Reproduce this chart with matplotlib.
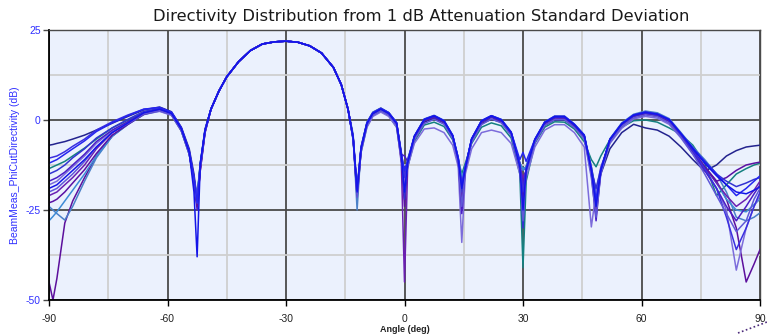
"""Directivity distribution chart from 1 dB attenuation standard deviation."""

import matplotlib

matplotlib.use("Agg")
from matplotlib import pyplot as plt  # noqa: E402
from matplotlib.lines import Line2D  # noqa: E402
from matplotlib.ticker import MultipleLocator  # noqa: E402

# angle grids (deg); the main beam is common to every trace
ANGLES_LEFT = [-90, -89, -88, -86, -84, -81, -78, -74, -70, -66, -62, -59, -56.5, -54.5, -53.3, -52.5, -51.7, -50.5]
ANGLES_MAIN = [-49, -47, -45, -42, -39, -36, -33, -30, -27, -24, -21, -18, -16, -14.3]
ANGLES_RIGHT = [
    -13, -12, -11, -9.5, -8, -6, -4, -2, -0.8, 0, 0.8, 2.5, 5, 7.5, 10, 12.2, 13.6, 14.5, 15.4, 17,
    19.5, 22, 24.5, 27, 29.2, 30, 30.8, 33, 35.5, 38, 40.5, 43, 45.5, 47.3, 48.5, 49.7, 52, 55, 58, 61,
    64, 67, 70, 73, 76, 79, 81.5, 84, 86.5, 88.5, 90,
]

MAIN_BEAM = [3, 8, 12, 16.2, 19.3, 21.1, 21.7, 21.9, 21.6, 20.6, 18.6, 14.6, 9.8, 3]

TRACE_COLORS = [
    "#23238e", "#148080", "#5c0f9c", "#4a80c8", "#3d8bd6", "#6b1fb2", "#7c6cdb",
    "#4a1dc6", "#5a10a4", "#3232d2", "#3a2fe0", "#6058d8", "#2525f0", "#1414e8",
]

LEFT_DB = [
    [-7, -6.8, -6.5, -6, -5.3, -4.2, -2.8, -0.9, 1, 2.8, 3.6, 2.3, -2, -8, -15, -22, -12, -2.5],
    [-13.5, -13, -12.5, -11.5, -10, -7.8, -5.3, -2.2, 0, 2, 2.8, 1.5, -3, -9.5, -17, -21, -12, -3],
    [-45, -50, -44, -28.6, -22.5, -16, -10, -4.5, -1, 1.6, 2.6, 1.6, -2.8, -9, -16, -23, -14, -3.5],
    [-24, -25, -26, -27.8, -24, -17, -10.5, -4.5, -1.2, 1.6, 2.6, 1.5, -3, -9.5, -17, -22, -13, -3.2],
    [-28, -26.8, -25.5, -22.5, -19.5, -15, -10, -4.5, -1.2, 1.5, 2.5, 1.4, -3, -9.5, -16.5, -21, -12.5, -3],
    [-21, -20.5, -20, -18, -16, -12.5, -8, -3.5, -0.8, 1.8, 2.8, 1.7, -2.6, -9, -17, -24, -13.5, -3],
    [-18, -17.5, -17, -15, -13, -10, -6.5, -3, -0.8, 1.6, 2.4, 1.3, -3, -9.5, -17, -22, -13, -3.5],
    [-17, -16.5, -16, -14.5, -12.5, -9.5, -6, -2.8, -0.4, 2, 2.9, 1.8, -2.4, -9, -17, -25, -13, -3],
    [-23, -22.6, -22, -20, -17.5, -13.8, -9.3, -4.2, -1.2, 1.6, 2.7, 1.6, -2.8, -9.2, -17.5, -24, -14, -3.5],
    [-15, -14.5, -14, -12.5, -10.5, -8, -5, -2.2, 0.2, 2.4, 3.2, 2, -2.3, -8.8, -16.5, -23, -12.8, -3],
    [-10.6, -10.3, -10, -8.8, -7.3, -5.3, -2.8, -0.5, 1.4, 3, 3.4, 2.1, -2.2, -8.6, -16, -22, -12.5, -2.8],
    [-20, -19.5, -19, -17, -15, -11.5, -7.5, -3.4, -1, 1.7, 2.6, 1.5, -2.8, -9.3, -17, -23, -13, -3.2],
    [-12, -11.5, -11, -9.5, -8, -5.8, -3.2, -0.8, 1.2, 3, 3.5, 2.2, -2.2, -8.5, -16, -23, -12.5, -2.8],
    [-19, -18.5, -18, -16, -14, -11, -7.5, -3.5, -0.8, 2, 3, 1.8, -2.5, -9, -20, -38, -12, -3],
]

RIGHT_DB = [
    [-4.5, -19, -7.5, -0.7, 2.1, 3.3, 2, -0.8, -9, -15, -11, -5, -0.6, 0.5, -0.8, -5, -11, -17, -13, -6,
     -1, 0.2, -0.6, -4, -12, -14, -13, -6, -1.5, 0, 0, -2, -5, -13, -20, -15, -8, -3.5, -1.2, -2.2,
     -2.8, -4.5, -7.5, -11, -14.2, -12.5, -10, -8.5, -7.5, -7.2, -7],
    [-5.5, -21, -9, -1.8, 1.2, 2.5, 1.2, -2, -11, -20, -13, -6, -1.4, -0.6, -1.8, -5.5, -11, -15, -12, -6.5,
     -2, -0.8, -1.6, -5, -15, -41, -17, -6.5, -2, -0.5, -0.6, -2.5, -6, -11, -13, -10, -5.5, -2, -0.2, 0,
     -0.6, -2.2, -4, -7, -12, -21, -18, -15, -13.5, -12.5, -12],
    [-5, -22, -8.5, -1.2, 1.6, 2.8, 1.6, -1.2, -10, -19, -12, -4.8, -0.2, 0.8, -0.6, -4.8, -11.5, -22, -13, -5.6,
     -0.6, 0.8, -0.3, -3.8, -13, -18, -14, -5.8, -1, 0.6, 0.6, -1.6, -4.6, -14, -25, -14, -5.6, -1.3, 1, 1.8,
     1.3, -0.3, -4.3, -8.5, -13, -17, -22, -30, -45, -40, -36],
    [-4, -25, -7.5, -0.6, 2.2, 3.3, 2.1, -0.7, -9.5, -17, -11, -4.4, 0.3, 1.3, -0.1, -4.2, -10.5, -17, -13, -5.2,
     -0.2, 1.2, 0.2, -3.3, -12, -14, -13, -5.3, -0.5, 1.1, 1.1, -1.1, -4.1, -13, -21, -14, -5.2, -0.8, 1.6, 2.5,
     2, 0.4, -3.5, -7.5, -11, -15, -20, -27, -28, -27, -25.8],
    [-5.5, -19.5, -8, -1, 1.8, 3, 1.8, -1.2, -10.5, -16, -12, -4.6, 0, 1, -0.4, -4.4, -10.5, -16, -13, -5.4,
     -0.4, 1, -0.1, -3.6, -12, -13.5, -13, -5.6, -0.8, 0.8, 0.8, -1.4, -4.4, -13.5, -21, -14, -5.5, -1.2, 1.2, 2,
     1.5, 0, -4.2, -8.5, -13, -17.5, -22, -25, -25.5, -23.5, -22],
    [-5, -20, -8, -1, 1.6, 2.8, 1.6, -1.3, -12, -45, -13, -5, -0.2, 0.8, -0.6, -4.6, -11, -18, -13.5, -5.5,
     -0.5, 0.9, -0.2, -3.7, -13, -16, -14, -5.7, -0.9, 0.7, 0.7, -1.5, -4.5, -14, -23, -14, -5.6, -1.3, 1.1, 1.9,
     1.4, -0.2, -4.2, -8.5, -13, -17.5, -21, -24, -22, -19.5, -17],
    [-5.5, -20.5, -9, -2, 1, 2.2, 1, -2, -11, -17, -13, -6.5, -2.5, -2.2, -3.5, -7, -13, -34, -15, -8,
     -3.5, -2.8, -3.5, -6.5, -15, -20, -16, -7.5, -2.8, -1.3, -1.3, -3.5, -7.5, -29.7, -20, -13, -6.5, -2.3, 0.3, 1,
     0.5, -1.2, -5, -9.5, -14, -19, -25, -41.7, -30, -24, -21],
    [-5, -21, -8.2, -1.2, 1.6, 2.9, 1.7, -1.1, -9.5, -10, -11.5, -4.8, -0.1, 0.9, -0.5, -4.6, -11, -26, -13.5, -5.6,
     -0.6, 0.8, -0.3, -3.8, -13, -18, -14, -5.8, -1, 0.6, 0.5, -1.6, -4.7, -15, -28, -14, -5.7, -1.4, 1, 1.8,
     1.2, -0.4, -4.5, -9, -14, -19, -24, -28, -24, -20.5, -18],
    [-5.2, -20.5, -8.3, -1.1, 1.7, 2.9, 1.7, -1.1, -10, -24, -12, -4.8, -0.1, 0.9, -0.5, -4.6, -11.2, -21, -13.5, -5.5,
     -0.5, 0.9, -0.2, -3.7, -13.5, -22, -14, -5.7, -0.9, 0.7, 0.7, -1.5, -4.5, -14, -26, -14.5, -5.6, -1.3, 1.1, 1.9,
     1.4, -0.2, -4, -8.5, -13, -17, -16, -14, -12.5, -12, -11.7],
    [-5, -20, -8, -1, 1.9, 3.1, 1.9, -0.9, -9.8, -22, -11.8, -4.6, 0, 1, -0.4, -4.5, -11, -20, -13.5, -5.4,
     -0.4, 1, -0.1, -3.6, -12.5, -30, -13.5, -5.6, -0.8, 0.8, 0.8, -1.4, -4.4, -14, -19, -13.5, -5.5, -1.2, 1.2, 2,
     1.5, 0, -3.8, -7.8, -11.5, -15, -17, -18.5, -17.5, -16.5, -16],
    [-4.8, -19.8, -7.8, -0.8, 2, 3.2, 2, -0.8, -9.6, -16, -11.6, -4.5, 0.2, 1.2, -0.2, -4.3, -10.6, -19, -13.2, -5.2,
     -0.2, 1.2, 0.1, -3.4, -12, -20, -13.6, -5.4, -0.6, 1, 1, -1.2, -4.2, -14, -24, -14.5, -5.4, -1, 1.4, 2.2,
     1.6, 0, -4, -8.5, -13.5, -19, -27, -36, -30, -24, -20],
    [-5.3, -21.5, -8.6, -1.5, 1.3, 2.6, 1.4, -1.5, -10.5, -19, -12.5, -5.5, -1, 0.2, -1.2, -5.2, -11.8, -24, -14, -6.2,
     -1.3, 0.3, -0.8, -4.3, -13.5, -28, -14.5, -6.3, -1.5, 0.1, 0.1, -2.1, -5.2, -16, -27, -15, -6.3, -1.8, 0.6, 1.4,
     0.9, -0.8, -4.8, -9.5, -15, -21, -26, -31, -28, -22, -19],
    [-4.8, -19.5, -7.8, -0.8, 2, 3.2, 2, -0.8, -9.5, -14, -11.5, -4.5, 0.2, 1.2, -0.2, -4.3, -10.5, -18, -13, -5.2,
     -0.2, 1.2, 0.1, -3.4, -11, -9, -11.5, -5.4, -0.6, 1, 1, -1.2, -4.2, -13.5, -22, -14, -5.4, -1, 1.4, 2.2,
     1.7, 0.2, -3.8, -7.8, -11.5, -15, -18, -21, -19, -17, -15.5],
    [-5, -20, -8, -1, 1.8, 3, 1.8, -1, -10, -20, -12, -4.6, 0.1, 1.1, -0.3, -4.4, -11, -19, -13.5, -5.3,
     -0.3, 1.1, 0, -3.5, -13, -25, -14, -5.5, -0.7, 0.9, 0.9, -1.3, -4.3, -14, -24, -14, -5.4, -1.1, 1.3, 2.1,
     1.6, 0.1, -3.8, -8, -12, -15.5, -18, -20, -20.5, -19.5, -18.6],
]

TITLE = "Directivity Distribution from 1 dB Attenuation Standard Deviation"
X_LABEL = "Angle (deg)"
Y_LABEL = "BeamMeas_PhiCutDirectivity (dB)"

AXES_BG = "#ebf1fd"
MAJOR_GRID = "#4a4a4a"
MINOR_GRID = "#cfcfcf"
LABEL_BLUE = "#3030ff"


def main() -> None:
    plt.rcParams["font.family"] = ["Liberation Sans", "DejaVu Sans"]
    plt.rcParams["axes.unicode_minus"] = False
    fig = plt.figure(figsize=(7.67, 3.34), dpi=100)
    ax = fig.add_axes([49 / 767, 34 / 334, 711 / 767, 270 / 334])
    ax.set_facecolor(AXES_BG)

    angles = ANGLES_LEFT + ANGLES_MAIN + ANGLES_RIGHT
    for color, left, right in zip(TRACE_COLORS, LEFT_DB, RIGHT_DB):
        ax.plot(angles, left + MAIN_BEAM + right, color=color, linewidth=1.1, solid_joinstyle="round")

    ax.set_xlim(-90, 90)
    ax.set_ylim(-50, 25)
    ax.xaxis.set_major_locator(MultipleLocator(30))
    ax.xaxis.set_minor_locator(MultipleLocator(15))
    ax.yaxis.set_major_locator(MultipleLocator(25))
    ax.yaxis.set_minor_locator(MultipleLocator(12.5))
    ax.grid(which="minor", color=MINOR_GRID, linewidth=1.3)
    ax.grid(which="major", color=MAJOR_GRID, linewidth=1.3)
    ax.set_axisbelow(True)

    ax.tick_params(axis="x", which="major", length=4, width=1, color="black", labelsize=7.5,
                   labelcolor="#222222", pad=6)
    ax.tick_params(axis="y", which="major", length=4, width=1, color=MAJOR_GRID, labelsize=7.5,
                   labelcolor=LABEL_BLUE, pad=2)
    ax.tick_params(which="minor", length=0)
    for side in ("left", "bottom"):
        ax.spines[side].set_color("black")
        ax.spines[side].set_linewidth(1.3)
    for side in ("top", "right"):
        ax.spines[side].set_color(MAJOR_GRID)
        ax.spines[side].set_linewidth(1.0)

    fig.text(421 / 767, 1 - 16 / 334, TITLE, fontsize=11.8, color="#1a1a1a", ha="center", va="center",
             family="DejaVu Sans")
    ax.set_xlabel(X_LABEL, fontsize=6.5, fontweight="bold", color="#222222", labelpad=1)
    ax.set_ylabel(Y_LABEL, fontsize=7.5, color=LABEL_BLUE, labelpad=4)

    # dotted leader line running off the lower right corner
    fig.add_artist(Line2D([738 / 767, 1.0], [1 / 334, 12 / 334], transform=fig.transFigure,
                          color="#4b2a7a", linestyle=(0, (1, 1.5)), linewidth=1.2))

    fig.savefig("out.png", dpi=100)
    plt.close(fig)


if __name__ == "__main__":
    main()
